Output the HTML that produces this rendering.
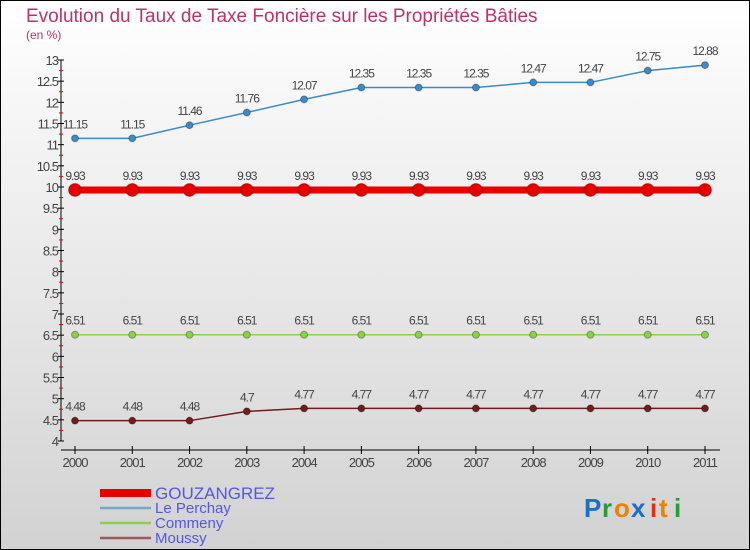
<!DOCTYPE html>
<html><head><meta charset="utf-8"><style>
body{margin:0;width:750px;height:550px;overflow:hidden;font-family:"Liberation Sans",sans-serif}
svg{display:block}
</style></head><body>
<svg id="chart" width="750" height="550">
<defs><linearGradient id="bg" x1="0" y1="0" x2="0" y2="1"><stop offset="0" stop-color="#ffffff"/><stop offset="1" stop-color="#d2d2d2"/></linearGradient></defs>
<rect x="0.5" y="0.5" width="749" height="549" fill="url(#bg)" stroke="#000"/>
<text x="26" y="22" font-size="19" fill="#c0306a">Evolution du Taux de Taxe Foncière sur les Propriétés Bâties</text>
<text x="26" y="39" font-size="12" fill="#c0306a">(en %)</text>
<g id="axes"></g><g id="series"></g><g id="legend"></g>
<g font-size="26" font-weight="bold">
<text x="584" y="517" fill="#1a6fc9">P</text><text x="602" y="517" fill="#2a9a3a">r</text><text x="614" y="517" fill="#f08000">o</text><text x="631" y="517" fill="#1a6fc9">x</text><text x="650" y="517" fill="#e03010">i</text><text x="659" y="517" fill="#f08000">t</text><text x="674" y="517" fill="#2a9a3a">i</text>
</g>
</svg>
<script>
const years=["2000","2001","2002","2003","2004","2005","2006","2007","2008","2009","2010","2011"];
const gouzangrez=[9.93,9.93,9.93,9.93,9.93,9.93,9.93,9.93,9.93,9.93,9.93,9.93];
const lePerchay=[11.15,11.15,11.46,11.76,12.07,12.35,12.35,12.35,12.47,12.47,12.75,12.88];
const commeny=[6.51,6.51,6.51,6.51,6.51,6.51,6.51,6.51,6.51,6.51,6.51,6.51];
const moussy=[4.48,4.48,4.48,4.7,4.77,4.77,4.77,4.77,4.77,4.77,4.77,4.77];
const yTicks=[4,4.5,5,5.5,6,6.5,7,7.5,8,8.5,9,9.5,10,10.5,11,11.5,12,12.5,13];
const NS="http://www.w3.org/2000/svg";
const X=i=>75+i*(630/11);
const Y=v=>441-(v-4)*(381/9);
function mk(p,t,a){const e=document.createElementNS(NS,t);for(const k in a)e.setAttribute(k,a[k]);p.appendChild(e);return e;}
const ax=document.getElementById('axes');
let l=mk(ax,'line',{x1:61,y1:Y(13),x2:61,y2:Y(4),stroke:'#000'});


l=mk(ax,'line',{x1:61,y1:450,x2:720,y2:450,stroke:'#000'});


yTicks.forEach(v=>{
 mk(ax,'line',{x1:58,x2:64,y1:Y(v),y2:Y(v),stroke:'#000'});
 mk(ax,'line',{x1:59,x2:63,y1:Y(v+0.25),y2:Y(v+0.25),stroke:v<13?'#e00':'none'});
 const t=mk(ax,'text',{x:58,y:Y(v)+5,'font-size':13,'text-anchor':'end',fill:'#444','letter-spacing':'-1'});
 t.textContent=String(v);
 
 
});
years.forEach((y,i)=>{
 mk(ax,'line',{x1:X(i),x2:X(i),y1:446,y2:454,stroke:'#000'});
 const t=mk(ax,'text',{x:X(i),y:467,'font-size':13,'text-anchor':'middle',fill:'#444','letter-spacing':'-1'});
 t.textContent=y;
 
 
});
const sg=document.getElementById('series');
function series(vals,color,w,r,name){
 const g=mk(sg,'g',{});
 
 
 mk(g,'polyline',{points:vals.map((v,i)=>X(i)+','+Y(v)).join(' '),fill:'none',stroke:color,'stroke-width':w});
 vals.forEach((v,i)=>{
  const c=mk(g,'circle',{cx:X(i),cy:Y(v),r:r,fill:color,stroke:'rgba(0,0,0,0.3)'});
  
  
  const t=mk(g,'text',{x:X(i),y:Y(v)-10,'font-size':12,'text-anchor':'middle',fill:'#444','letter-spacing':'-1'});
  t.textContent=String(v);
  
  
 });
}
series(lePerchay,'#3d8ac8',1.5,3.5,'le-perchay');
series(commeny,'#8ccf4e',1.5,3.5,'commeny');
series(moussy,'#6e1c1c',1.5,3.5,'moussy');
series(gouzangrez,'#e80000',7,6.5,'gouzangrez');
const lg=document.getElementById('legend');
const leg=[["GOUZANGREZ","#e80000",8],["Le Perchay","#78a8c8",2.5],["Commeny","#8ccf4e",2.5],["Moussy","#9a5a5a",2.5]];
leg.forEach((d,i)=>{
 const y=493+i*15;
 const g=mk(lg,'g',{});
 
 
 mk(g,'line',{x1:100,x2:151,y1:y,y2:y,stroke:d[1],'stroke-width':d[2]});
 const t=mk(g,'text',{x:155,y:y+(i==0?6:5),'font-size':i==0?17:15,fill:'#5555ee'});
 t.textContent=d[0];
});
</script>
</body></html>
